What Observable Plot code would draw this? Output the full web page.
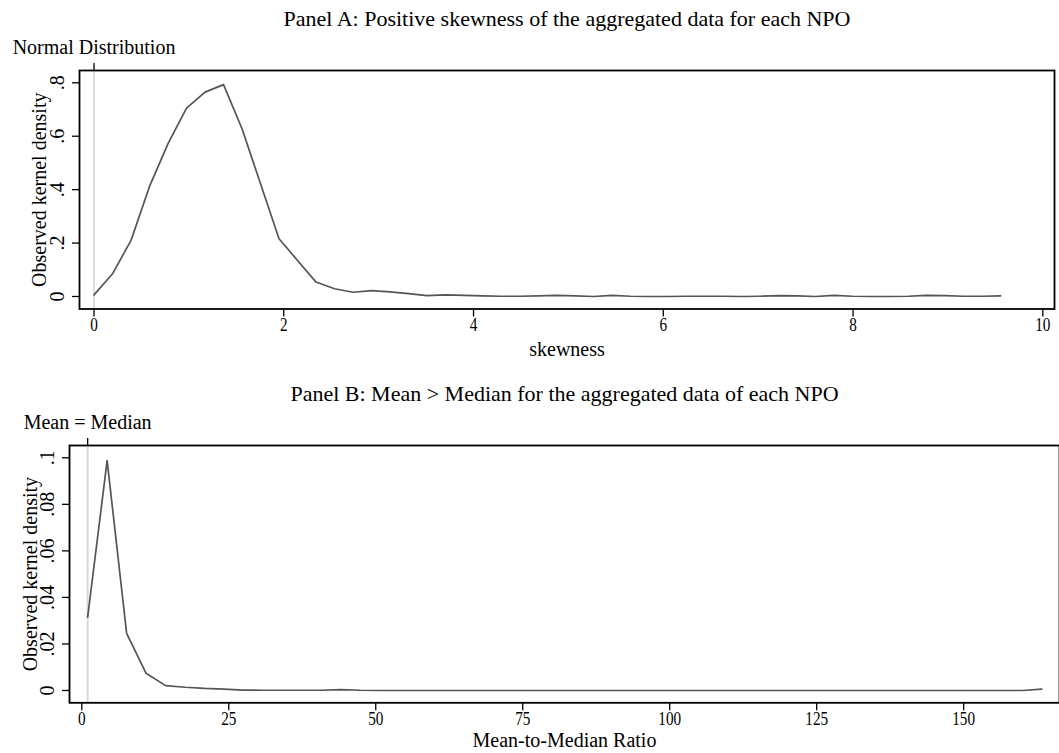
<!DOCTYPE html>
<html><head><meta charset="utf-8">
<script src="https://cdn.jsdelivr.net/npm/d3@7"></script>
<script src="https://cdn.jsdelivr.net/npm/@observablehq/plot@0.6"></script>
<style>body{margin:0;background:#fff} svg{display:block}</style>
</head><body><div id="chart"></div>
<script>
// ---- Panel A data: kernel density of skewness ----
const skewX = [0.000, 0.195, 0.390, 0.585, 0.780, 0.975, 1.170, 1.365, 1.560, 1.755,
  1.950, 2.145, 2.340, 2.535, 2.730, 2.925, 3.120, 3.315, 3.510, 3.705,
  3.900, 4.095, 4.290, 4.485, 4.680, 4.875, 5.070, 5.265, 5.460, 5.655,
  5.850, 6.045, 6.240, 6.435, 6.630, 6.825, 7.020, 7.215, 7.410, 7.605,
  7.800, 7.995, 8.190, 8.385, 8.580, 8.775, 8.970, 9.165, 9.360, 9.555];
const skewDensity = [0.006, 0.085, 0.210, 0.412, 0.572, 0.705, 0.765, 0.793, 0.628, 0.422,
  0.216, 0.135, 0.054, 0.029, 0.016, 0.022, 0.017, 0.011, 0.003, 0.006,
  0.004, 0.002, 0.001, 0.001, 0.002, 0.004, 0.002, 0.000, 0.004, 0.001,
  0.000, 0.000, 0.001, 0.001, 0.001, 0.000, 0.001, 0.003, 0.002, 0.000,
  0.004, 0.001, 0.000, 0.000, 0.001, 0.004, 0.003, 0.001, 0.001, 0.002];

// ---- Panel B data: kernel density of mean-to-median ratio ----
const ratioX = [1.00, 4.31, 7.63, 10.94, 14.25, 17.56, 20.87, 24.19, 27.50, 30.81,
  34.12, 37.44, 40.75, 44.06, 47.37, 50.68, 54.00, 57.31, 60.62, 63.93,
  67.24, 70.56, 73.87, 77.18, 80.49, 83.80, 87.12, 90.43, 93.74, 97.05,
  100.36, 103.68, 106.99, 110.30, 113.61, 116.92, 120.24, 123.55, 126.86, 130.17,
  133.48, 136.80, 140.11, 143.42, 146.73, 150.04, 153.36, 156.67, 159.98, 163.29];
const ratioDensity = [0.0315, 0.0988, 0.0245, 0.0074, 0.0021, 0.0014, 0.0009, 0.0006, 0.0002, 0.0001,
  0.0001, 0.0001, 0.0001, 0.0004, 0.0001, 0.0000, 0.0000, 0.0000, 0.0000, 0.0000,
  0.0000, 0.0000, 0.0000, 0.0000, 0.0000, 0.0000, 0.0000, 0.0000, 0.0000, 0.0000,
  0.0000, 0.0000, 0.0000, 0.0000, 0.0000, 0.0000, 0.0000, 0.0000, 0.0000, 0.0000,
  0.0000, 0.0000, 0.0000, 0.0000, 0.0000, 0.0000, 0.0000, 0.0000, 0.0000, 0.0006];

// ---- Ticks and labels ----
const xTicksA = [0, 2, 4, 6, 8, 10];
const yTicksA = [0, 0.2, 0.4, 0.6, 0.8];
const xTicksB = [0, 25, 50, 75, 100, 125, 150];
const yTicksB = [0, 0.02, 0.04, 0.06, 0.08, 0.1];
const refLineA = [0];
const refLineB = [1];
const titleA = "Panel A: Positive skewness of the aggregated data for each NPO";
const titleB = "Panel B: Mean > Median for the aggregated data of each NPO";
const refLabelA = "Normal Distribution";
const refLabelB = "Mean = Median";
const xLabelA = "skewness";
const xLabelB = "Mean-to-Median Ratio";
const yLabel = "Observed kernel density";

const font = '"Liberation Serif","Times New Roman",serif';
const stataFmt = d => d === 0 ? "0" : String(+d.toFixed(4)).replace(/^0\./, ".");
const lineColor = "#555555";
const refColor = "#dadada";

function panel(o) {
  const svg = Plot.plot({
    width: 1059, height: o.height,
    marginLeft: o.ml, marginRight: o.mr, marginTop: o.mt, marginBottom: o.mb,
    style: {fontFamily: font, fontSize: "20px", color: "#000", background: "#fff"},
    x: {domain: o.xd},
    y: {domain: o.yd},
    marks: [
      Plot.ruleX(o.ref, {stroke: refColor, strokeWidth: 2}),
      Plot.line(o.xs, {x: o.xs, y: o.ys, stroke: lineColor, strokeWidth: 1.7}),
      Plot.frame({stroke: "#000", strokeWidth: 1.8}),
      Plot.axisX({anchor: "bottom", ticks: o.xt, tickSize: 8, tickPadding: 1, label: null, tickFormat: d => String(d), strokeWidth: 1.3}),
      Plot.axisX({anchor: "top", ticks: o.ref, tickSize: 8, tickPadding: 9, label: null, tickFormat: () => o.refLabel, strokeWidth: 1.3}),
      Plot.axisY({anchor: "left", ticks: o.yt, tickSize: 7, tickPadding: 9, tickRotate: -90, tickFormat: stataFmt, label: null, strokeWidth: 1.3}),
      Plot.text([o.title], {frameAnchor: "top", dy: -45, lineAnchor: "bottom", fontSize: 22}),
      Plot.text([o.xLabel], {frameAnchor: "bottom", dy: o.xlOff, lineAnchor: "bottom", fontSize: 20}),
      Plot.text([yLabel], {frameAnchor: "left", dx: o.ylOff, rotate: -90, textAnchor: "middle", lineAnchor: "bottom", fontSize: 20})
    ]
  });
  // Stata's numeric x tick labels are tall and narrow
  d3.select(svg).selectAll('g[aria-label="x-axis tick label"] text')
    .filter(function () { return /^\d+$/.test(this.textContent); })
    .attr("font-size", 19)
    .attr("transform", function () { return this.getAttribute("transform") + " scale(0.8,1)"; });
  return svg;
}

const root = document.getElementById("chart");
root.append(panel({
  height: 370, ml: 79, mr: 5, mt: 70, mb: 61.5,
  xd: [-0.153, 10.123], yd: [-0.0468, 0.846],
  xs: skewX, ys: skewDensity, ref: refLineA, refLabel: refLabelA,
  xt: xTicksA, yt: yTicksA, title: titleA, xLabel: xLabelA, xlOff: 46.5, ylOff: -34
}));
root.append(panel({
  height: 383, ml: 69, mr: 0, mt: 75, mb: 50.7,
  xd: [-2.09, 166.3], yd: [-0.00529, 0.10529],
  xs: ratioX, ys: ratioDensity, ref: refLineB, refLabel: refLabelB,
  xt: xTicksB, yt: yTicksB, title: titleB, xLabel: xLabelB, xlOff: 44.5, ylOff: -33
}));
</script>
</body></html>
